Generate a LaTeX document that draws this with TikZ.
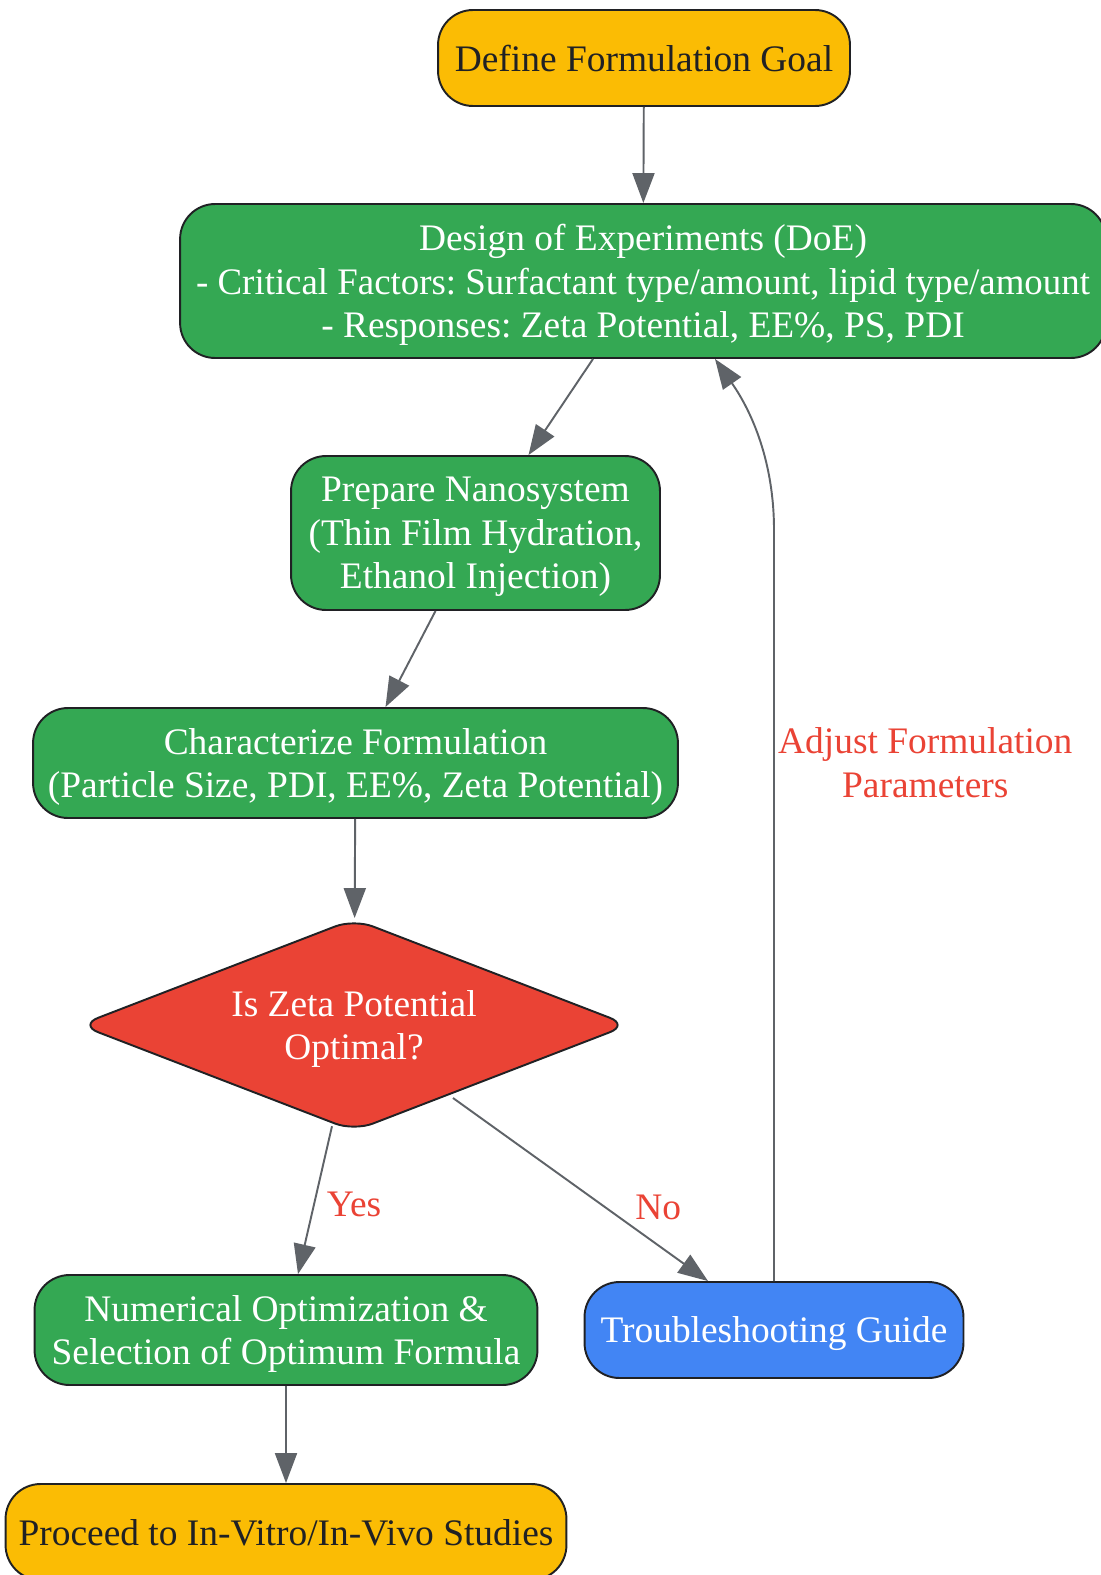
\documentclass[tikz,border=0pt]{standalone}
\usepackage{fontspec}
\setmainfont{Liberation Serif}
\usetikzlibrary{shapes.geometric,arrows.meta,calc}
\definecolor{goalyellow}{HTML}{FBBC04}
\definecolor{stepgreen}{HTML}{34A853}
\definecolor{askred}{HTML}{EA4335}
\definecolor{fixblue}{HTML}{4285F4}
\definecolor{linkgray}{HTML}{5F6368}
\definecolor{inkdark}{HTML}{202124}
\frenchspacing

\begin{document}
\begin{tikzpicture}[x=0.02cm, y=-0.02cm]
    \tikzstyle{box}=[rectangle, rounded corners=0.7cm, draw=inkdark, line width=1.1pt, inner sep=0pt, text depth=0pt, align=center, font=\fontsize{21.3pt}{24.8pt}\selectfont]
    \tikzstyle{goal}=[box, fill=goalyellow, text=inkdark]
    \tikzstyle{work}=[box, fill=stepgreen, text=white]
    \tikzstyle{fix}=[box, fill=fixblue, text=white]
    \tikzstyle{ask}=[diamond, aspect=2.58, rounded corners=0.4cm, draw=inkdark, line width=1.1pt, fill=askred, text=white, inner sep=0pt, text depth=0pt, align=center, font=\fontsize{21.3pt}{24.8pt}\selectfont]
    \tikzstyle{link}=[draw=linkgray, line width=1.1pt, -{Triangle[length=17pt, width=12.5pt]}]
    \tikzstyle{lbl}=[text=askred, align=center, font=\fontsize{21.3pt}{24.8pt}\selectfont]

    \useasboundingbox (0,0) rectangle (1100,1575);

    \node[goal, minimum width=8.24cm, minimum height=1.92cm] (goal) at (644,58) {Define Formulation Goal};
    \node[work, minimum width=18.52cm, minimum height=3.08cm] (doe) at (643,281) {Design of Experiments (DoE)\\\scalebox{0.985}[1]{- Critical Factors: Surfactant type/amount, lipid type/amount}\\- Responses: Zeta Potential, EE\%, PS, PDI};
    \node[work, minimum width=7.38cm, minimum height=3.08cm] (prep) at (475.5,533) {Prepare Nanosystem\\(Thin Film Hydration,\\Ethanol Injection)};
    \node[work, minimum width=12.9cm, minimum height=2.2cm] (charac) at (355.5,763) {Characterize Formulation\\(Particle Size, PDI, EE\%, Zeta Potential)};
    \node[ask, minimum width=11cm, minimum height=4.25cm] (zeta) at (354,1025) {Is Zeta Potential\\Optimal?};
    \node[work, minimum width=10.06cm, minimum height=2.2cm] (optim) at (286,1330) {Numerical Optimization \&\\Selection of Optimum Formula};
    \node[fix, minimum width=7.58cm, minimum height=1.92cm] (trouble) at (774,1330) {Troubleshooting Guide};
    \node[goal, minimum width=11.22cm, minimum height=1.92cm] (proceed) at (286,1532) {Proceed to In-Vitro/In-Vivo Studies};

    \coordinate (turn) at (774,530);

    \path (goal) edge[link] (doe);
    \path ($(doe.south)+(-50,0)$) edge[link] ($(prep.north)+(53,0)$);
    \path ($(prep.south)+(-40,0)$) edge[link] ($(charac.north)+(30,0)$);
    \path (charac) edge[link] (zeta);
    \path ($(zeta.south)+(-22,-6)$) edge[link] node[lbl, pos=0.53, right=0.12cm] {Yes} ($(optim.north)+(12,0)$);
    \path (453,1098) edge[link] node[lbl, pos=0.6, right=0.45cm] {No} ($(trouble.north)+(-66,0)$);
    \path (optim) edge[link] (proceed);
    \draw[link] (trouble.north) -- node[lbl, pos=0.69, right=-1.5pt] {Adjust Formulation\\Parameters} (turn) .. controls (774,462) and (752,412) .. ($(doe.south)+(72,0)$);
  \end{tikzpicture}
\end{document}
